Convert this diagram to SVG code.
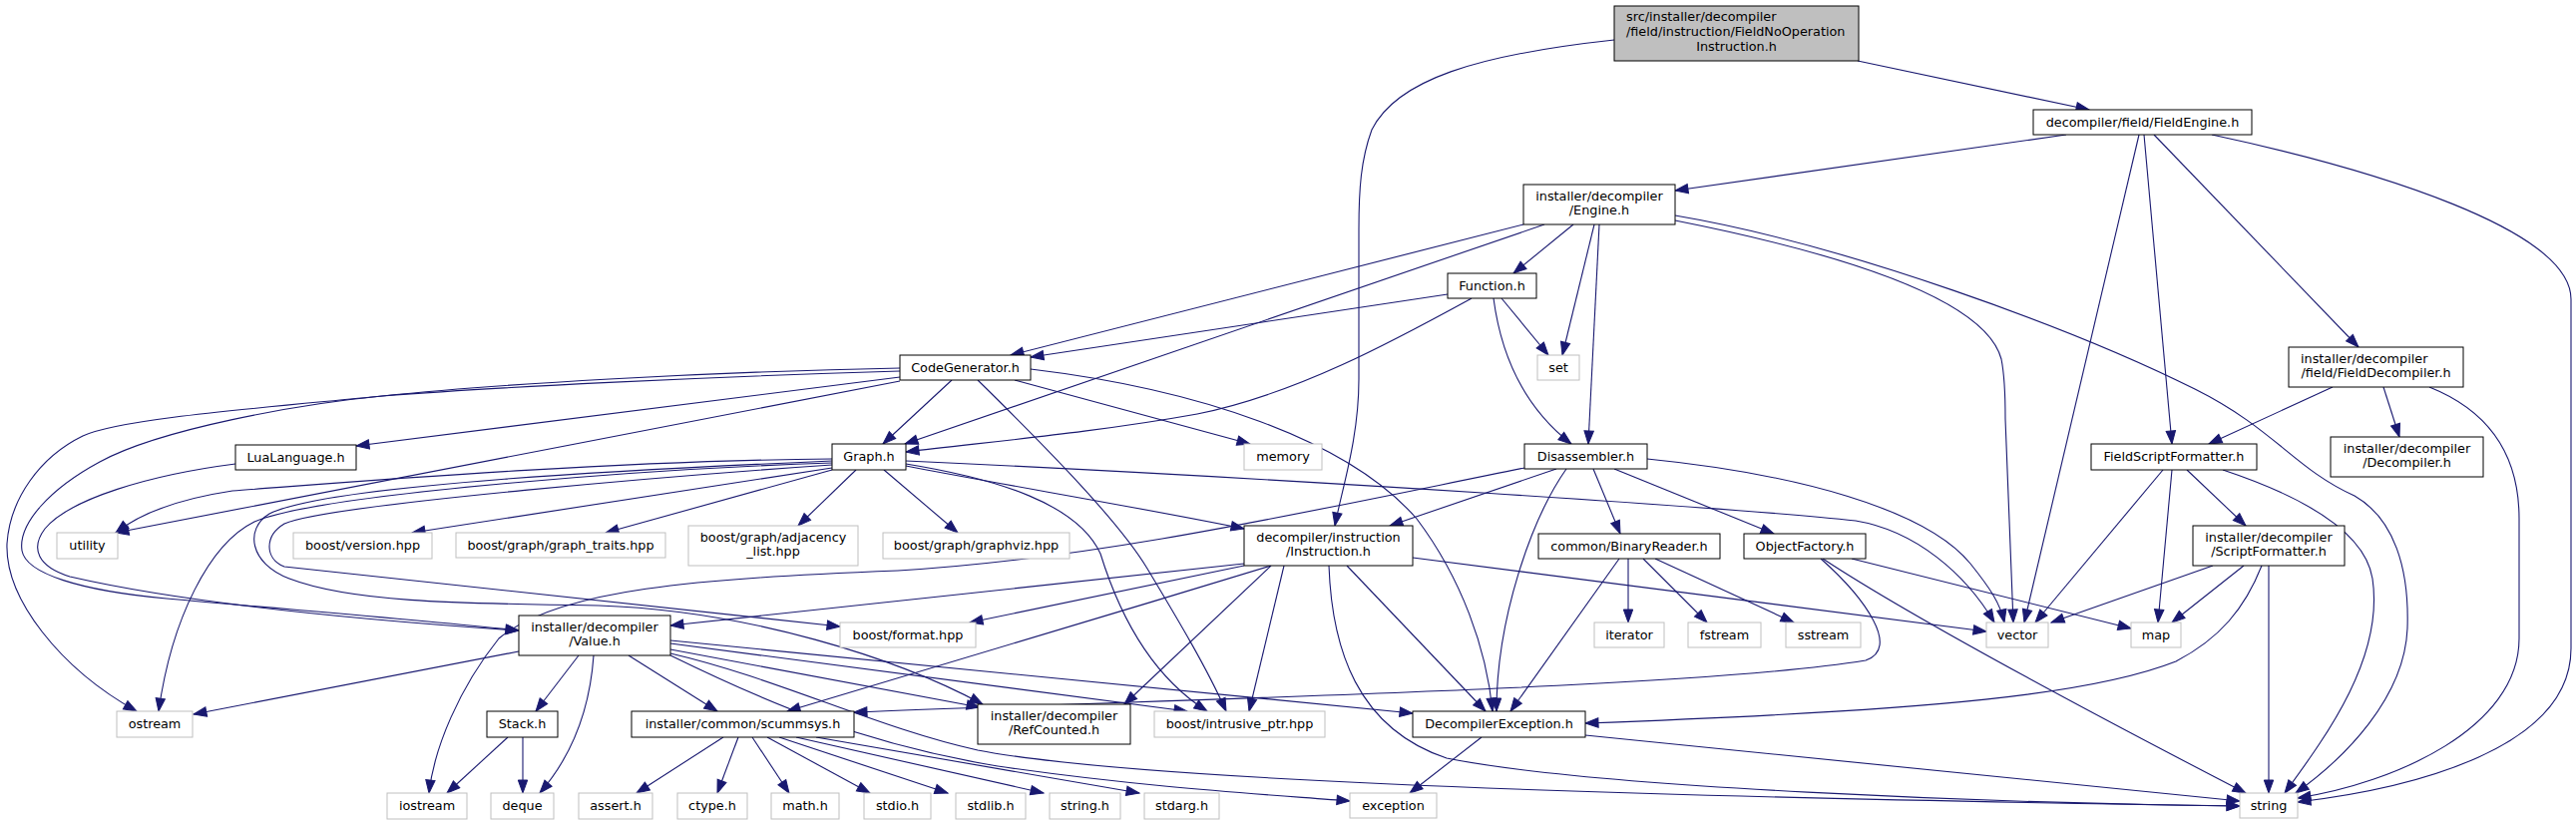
<svg xmlns="http://www.w3.org/2000/svg" width="2582" height="827" viewBox="0 0 2582 827">
<style>
.n rect{fill:#fff;stroke:#000;stroke-width:1}
.g rect{fill:#fff;stroke:#bfbfbf;stroke-width:1}
.r rect{fill:#bfbfbf;stroke:#000;stroke-width:1}
text{font-family:"DejaVu Sans","Liberation Sans",sans-serif;font-size:12.8px;fill:#000}
.m{text-anchor:middle}
#edges path{fill:none;stroke:#191970;stroke-width:1.1;marker-end:url(#a)}
</style>
<defs>
<marker id="a" markerWidth="14" markerHeight="10" refX="13" refY="4.7" orient="auto" markerUnits="userSpaceOnUse" overflow="visible"><path d="M0,0 L13,4.7 L0,9.4 Z" fill="#191970" stroke="#191970" stroke-width="1"/></marker>
</defs>
<rect width="2582" height="827" fill="#fff"/>
<g id="edges">
<path d="M1862,61 L2094,110"/>
<path d="M1618,40 C1480,55 1400,80 1375,130 C1364,160 1362,190 1362,230 L1362,380 C1362,440 1345,490 1338,527"/>
<path d="M2071,135 L1679,191"/>
<path d="M2144,135 L2029,624"/>
<path d="M2149,135 L2177,445"/>
<path d="M2159,135 L2364,348"/>
<path d="M2217,135 C2380,170 2577,230 2577,300 L2577,650 C2577,750 2420,790 2303,804"/>
<path d="M2338,388 L2214,445"/>
<path d="M2389,388 L2405,438"/>
<path d="M2435,388 C2490,410 2525,450 2525,520 L2525,640 C2525,730 2400,785 2303,800"/>
<path d="M1577,225 L1517,274"/>
<path d="M1598,225 L1566,356"/>
<path d="M1603,225 L1592,445"/>
<path d="M1527,225 L1013,356"/>
<path d="M1548,225 L907,445"/>
<path d="M1679,221 C1850,255 1990,300 2006,360 C2010,380 2010,400 2010,420 L2018,624"/>
<path d="M1679,216 C1850,245 2080,330 2200,390 C2280,430 2300,470 2360,497 C2400,520 2415,570 2413,630 C2410,700 2350,760 2301,795"/>
<path d="M1451,295 L1033,358"/>
<path d="M1475,299 C1400,340 1300,395 1200,415 C1100,433 1000,442 908,453"/>
<path d="M1505,299 L1552,356"/>
<path d="M1497,299 C1505,360 1530,410 1575,445"/>
<path d="M954,381 L885,445"/>
<path d="M1017,381 L1253,445"/>
<path d="M1033,370 C1200,390 1350,440 1420,520 C1465,580 1490,650 1496,713"/>
<path d="M980,381 C1040,440 1120,520 1150,570 C1180,620 1210,670 1229,713"/>
<path d="M902,369 C700,373 500,385 383,397 C300,405 160,430 100,463 C50,490 18,525 22,552 C26,575 80,592 167,600 C300,612 430,622 520,632"/>
<path d="M902,372 C700,378 500,388 383,397 C250,410 120,420 83,437 C40,458 10,500 7,545 C5,600 60,670 137,713"/>
<path d="M902,378 L357,447"/>
<path d="M902,382 C650,430 350,490 116,534"/>
<path d="M236,465 C150,476 70,500 45,530 C30,550 38,568 70,578 C200,608 400,624 520,632"/>
<path d="M834,469 L413,534"/>
<path d="M834,471 L607,534"/>
<path d="M858,471 L800,527"/>
<path d="M886,471 L960,534"/>
<path d="M908,467 C1000,485 1150,510 1247,530"/>
<path d="M908,462 C1300,480 1750,510 1860,522 C1920,532 1970,575 1999,624"/>
<path d="M908,465 C1000,480 1080,505 1103,555 C1120,610 1150,675 1210,713"/>
<path d="M834,462 C650,470 330,485 270,515 C245,530 250,565 290,580 C350,603 450,605 600,607 C750,612 900,660 985,706"/>
<path d="M834,466 C700,475 330,505 285,525 C265,537 265,560 285,568 L842,628"/>
<path d="M834,464 C650,470 320,495 255,523 C210,545 172,620 159,713"/>
<path d="M834,460 C600,462 330,485 233,492 C180,500 140,515 116,534"/>
<path d="M1247,565 L672,627"/>
<path d="M1247,567 L972,624"/>
<path d="M1274,567 L1127,706"/>
<path d="M1274,567 C1100,620 900,680 789,713"/>
<path d="M1287,567 L1252,713"/>
<path d="M1350,567 L1489,713"/>
<path d="M1332,567 C1335,650 1360,730 1450,760 C1600,790 2000,805 2245,808"/>
<path d="M1416,559 L1991,633"/>
<path d="M1528,469 C1300,515 1100,560 900,572 C700,580 560,590 500,640 C460,690 435,750 430,795"/>
<path d="M1560,470 L1393,527"/>
<path d="M1597,470 L1624,535"/>
<path d="M1618,470 L1778,535"/>
<path d="M1651,460 C1800,475 1930,510 1975,565 C1995,590 2005,605 2009,624"/>
<path d="M1570,470 C1535,520 1500,620 1500,713"/>
<path d="M1632,560 L1632,624"/>
<path d="M1647,560 L1711,624"/>
<path d="M1659,560 L1798,624"/>
<path d="M1623,560 L1514,713"/>
<path d="M1825,560 C1870,600 1905,650 1870,662 C1700,690 1200,700 856,714"/>
<path d="M1827,560 C1880,595 2000,665 2251,795"/>
<path d="M1856,560 L2136,630"/>
<path d="M2168,471 L2040,624"/>
<path d="M2177,471 L2163,624"/>
<path d="M2192,471 L2251,527"/>
<path d="M2228,471 C2300,495 2370,530 2378,580 C2390,660 2330,740 2290,795"/>
<path d="M2218,567 L2056,624"/>
<path d="M2249,567 L2177,624"/>
<path d="M2274,567 L2274,795"/>
<path d="M2267,567 C2250,610 2225,640 2181,663 C2100,695 1950,712 1589,725"/>
<path d="M1485,739 L1413,795"/>
<path d="M1589,737 L2245,803"/>
<path d="M520,653 L194,716"/>
<path d="M580,657 L537,713"/>
<path d="M595,657 C592,700 580,750 541,795"/>
<path d="M630,657 L719,713"/>
<path d="M672,651 L982,709"/>
<path d="M672,645 L1190,713"/>
<path d="M672,642 L1416,715"/>
<path d="M672,655 C780,680 880,730 980,752 C1150,785 1700,800 2245,808"/>
<path d="M672,657 C760,700 860,745 1000,768 C1150,790 1280,797 1353,803"/>
<path d="M509,739 L448,795"/>
<path d="M524,739 L524,795"/>
<path d="M725,739 L638,795"/>
<path d="M740,739 L719,795"/>
<path d="M754,739 L791,795"/>
<path d="M769,739 L872,795"/>
<path d="M781,739 L950,795"/>
<path d="M798,739 L1046,795"/>
<path d="M818,739 L1142,795"/>
</g>
<g id="n_root" class="r"><rect x="1618" y="6" width="245" height="55"/><text x="1630" y="21">src/installer/decompiler</text><text x="1630" y="36">/field/instruction/FieldNoOperation</text><text class="m" x="1740.5" y="51">Instruction.h</text></g>
<g id="n_fieldengine" class="n"><rect x="2038" y="110" width="219" height="25"/><text class="m" x="2147.5" y="127">decompiler/field/FieldEngine.h</text></g>
<g id="n_engine" class="n"><rect x="1527" y="185" width="152" height="40"/><text class="m" x="1603" y="200.5">installer/decompiler</text><text class="m" x="1603" y="215">/Engine.h</text></g>
<g id="n_function" class="n"><rect x="1451" y="274" width="89" height="25"/><text class="m" x="1495.5" y="291">Function.h</text></g>
<g id="n_set" class="g"><rect x="1541" y="356" width="42" height="25"/><text class="m" x="1562" y="373">set</text></g>
<g id="n_codegen" class="n"><rect x="902" y="356" width="131" height="25"/><text class="m" x="967.5" y="373">CodeGenerator.h</text></g>
<g id="n_memory" class="g"><rect x="1247" y="445" width="78" height="26"/><text class="m" x="1286" y="462">memory</text></g>
<g id="n_graph" class="n"><rect x="834" y="445" width="74" height="26"/><text class="m" x="871" y="462">Graph.h</text></g>
<g id="n_lua" class="n"><rect x="236" y="446" width="121" height="25"/><text class="m" x="296.5" y="463">LuaLanguage.h</text></g>
<g id="n_disasm" class="n"><rect x="1528" y="445" width="123" height="25"/><text class="m" x="1589.5" y="462">Disassembler.h</text></g>
<g id="n_fielddecomp" class="n"><rect x="2294" y="348" width="175" height="40"/><text x="2306" y="363.5">installer/decompiler</text><text class="m" x="2381.5" y="378">/field/FieldDecompiler.h</text></g>
<g id="n_decomp" class="n"><rect x="2336" y="438" width="153" height="40"/><text class="m" x="2412.5" y="453.5">installer/decompiler</text><text class="m" x="2412.5" y="468">/Decompiler.h</text></g>
<g id="n_fsf" class="n"><rect x="2096" y="445" width="166" height="26"/><text class="m" x="2179" y="462">FieldScriptFormatter.h</text></g>
<g id="n_utility" class="g"><rect x="57" y="534" width="61" height="26"/><text class="m" x="87.5" y="551">utility</text></g>
<g id="n_version" class="g"><rect x="294" y="534" width="139" height="26"/><text class="m" x="363.5" y="551">boost/version.hpp</text></g>
<g id="n_traits" class="g"><rect x="457" y="534" width="210" height="25"/><text class="m" x="562" y="551">boost/graph/graph_traits.hpp</text></g>
<g id="n_adj" class="g"><rect x="690" y="527" width="170" height="40"/><text class="m" x="775" y="542.5">boost/graph/adjacency</text><text class="m" x="775" y="557">_list.hpp</text></g>
<g id="n_graphviz" class="g"><rect x="885" y="534" width="187" height="26"/><text class="m" x="978.5" y="551">boost/graph/graphviz.hpp</text></g>
<g id="n_instr" class="n"><rect x="1247" y="527" width="169" height="40"/><text class="m" x="1331.5" y="542.5">decompiler/instruction</text><text class="m" x="1331.5" y="557">/Instruction.h</text></g>
<g id="n_binreader" class="n"><rect x="1542" y="535" width="182" height="25"/><text class="m" x="1633" y="552">common/BinaryReader.h</text></g>
<g id="n_objfactory" class="n"><rect x="1748" y="535" width="122" height="25"/><text class="m" x="1809" y="552">ObjectFactory.h</text></g>
<g id="n_scriptfmt" class="n"><rect x="2198" y="527" width="152" height="40"/><text class="m" x="2274" y="542.5">installer/decompiler</text><text class="m" x="2274" y="557">/ScriptFormatter.h</text></g>
<g id="n_value" class="n"><rect x="520" y="617" width="152" height="40"/><text class="m" x="596" y="632.5">installer/decompiler</text><text class="m" x="596" y="647">/Value.h</text></g>
<g id="n_format" class="g"><rect x="842" y="624" width="136" height="25"/><text class="m" x="910" y="641">boost/format.hpp</text></g>
<g id="n_vector" class="g"><rect x="1991" y="624" width="62" height="25"/><text class="m" x="2022" y="641">vector</text></g>
<g id="n_map" class="g"><rect x="2136" y="624" width="50" height="25"/><text class="m" x="2161" y="641">map</text></g>
<g id="n_iterator" class="g"><rect x="1598" y="624" width="70" height="25"/><text class="m" x="1633" y="641">iterator</text></g>
<g id="n_fstream" class="g"><rect x="1692" y="624" width="73" height="25"/><text class="m" x="1728.5" y="641">fstream</text></g>
<g id="n_sstream" class="g"><rect x="1790" y="624" width="75" height="25"/><text class="m" x="1827.5" y="641">sstream</text></g>
<g id="n_ostream" class="g"><rect x="117" y="713" width="76" height="26"/><text class="m" x="155" y="730">ostream</text></g>
<g id="n_stack" class="n"><rect x="488" y="713" width="71" height="26"/><text class="m" x="523.5" y="730">Stack.h</text></g>
<g id="n_scummsys" class="n"><rect x="633" y="713" width="223" height="26"/><text class="m" x="744.5" y="730">installer/common/scummsys.h</text></g>
<g id="n_refcounted" class="n"><rect x="980" y="706" width="153" height="40"/><text class="m" x="1056.5" y="721.5">installer/decompiler</text><text class="m" x="1056.5" y="736">/RefCounted.h</text></g>
<g id="n_intrusive" class="g"><rect x="1157" y="713" width="171" height="26"/><text class="m" x="1242.5" y="730">boost/intrusive_ptr.hpp</text></g>
<g id="n_decompexc" class="n"><rect x="1416" y="713" width="173" height="26"/><text class="m" x="1502.5" y="730">DecompilerException.h</text></g>
<g id="n_iostream" class="g"><rect x="388" y="795" width="80" height="26"/><text class="m" x="428" y="812">iostream</text></g>
<g id="n_deque" class="g"><rect x="492" y="795" width="63" height="26"/><text class="m" x="523.5" y="812">deque</text></g>
<g id="n_assert" class="g"><rect x="580" y="795" width="74" height="26"/><text class="m" x="617" y="812">assert.h</text></g>
<g id="n_ctype" class="g"><rect x="679" y="795" width="70" height="26"/><text class="m" x="714" y="812">ctype.h</text></g>
<g id="n_math" class="g"><rect x="773" y="795" width="68" height="26"/><text class="m" x="807" y="812">math.h</text></g>
<g id="n_stdio" class="g"><rect x="866" y="795" width="67" height="26"/><text class="m" x="899.5" y="812">stdio.h</text></g>
<g id="n_stdlib" class="g"><rect x="958" y="795" width="70" height="26"/><text class="m" x="993" y="812">stdlib.h</text></g>
<g id="n_stringh" class="g"><rect x="1052" y="795" width="71" height="26"/><text class="m" x="1087.5" y="812">string.h</text></g>
<g id="n_stdarg" class="g"><rect x="1147" y="795" width="75" height="26"/><text class="m" x="1184.5" y="812">stdarg.h</text></g>
<g id="n_exception" class="g"><rect x="1353" y="795" width="87" height="25"/><text class="m" x="1396.5" y="812">exception</text></g>
<g id="n_string" class="g"><rect x="2245" y="795" width="58" height="25"/><text class="m" x="2274" y="812">string</text></g>
</svg>
